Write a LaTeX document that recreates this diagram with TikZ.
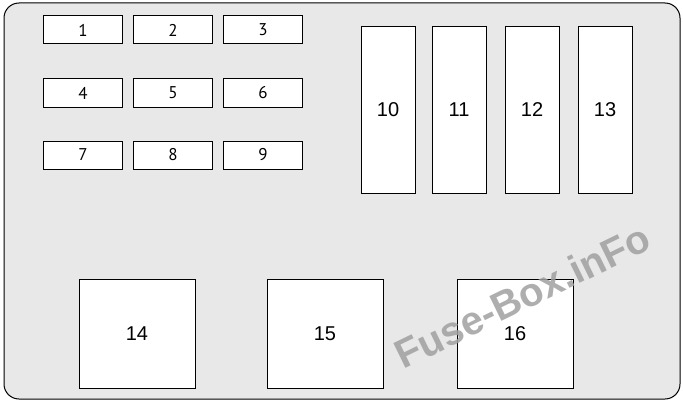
\documentclass[tikz,border=0pt]{standalone}
\usepackage{fontspec}
\usepackage{tikz}
\usetikzlibrary{positioning}

\newfontfamily\smallfusefont{PT Sans}
\newfontfamily\bigfusefont{Liberation Sans}
\definecolor{boxgray}{RGB}{232,232,232}
\definecolor{markgray}{RGB}{160,160,160}

\begin{document}
\begin{tikzpicture}[x=1pt,y=-1pt]
\tikzset{smallfuse/.style={rectangle, draw, fill=white, line width=1pt, minimum width=79pt, minimum height=28pt, inner sep=0pt, font=\smallfusefont\fontsize{17}{17}\selectfont}}
\tikzset{tallfuse/.style={rectangle, draw, fill=white, line width=1pt, minimum width=54pt, minimum height=166pt, inner sep=0pt, font=\bigfusefont\fontsize{20}{20}\selectfont}}
\tikzset{relay/.style={rectangle, draw, fill=white, line width=1pt, minimum width=116pt, minimum height=109pt, inner sep=0pt, font=\bigfusefont\fontsize{20}{20}\selectfont}}
\tikzset{watermark/.style={text=markgray, opacity=0.85, font=\bigfusefont\bfseries\fontsize{40}{40}\selectfont, rotate=26}}
\useasboundingbox (0,0) rectangle (683,404);
% housing
\draw[fill=boxgray, line width=1pt, rounded corners=15pt] (4,3) rectangle (680,399);
% small fuses
\node[smallfuse] (f1) at (83,30) {1};
\node[smallfuse, right=10pt of f1] (f2) {2};
\node[smallfuse, right=10pt of f2] (f3) {3};
\node[smallfuse, below=34pt of f1] (f4) {4};
\node[smallfuse, right=10pt of f4] (f5) {5};
\node[smallfuse, right=10pt of f5] (f6) {6};
\node[smallfuse, below=33pt of f4] (f7) {7};
\node[smallfuse, right=10pt of f7] (f8) {8};
\node[smallfuse, right=10pt of f8] (f9) {9};
% tall fuses
\node[tallfuse] (f10) at (388,110) {10};
\node[tallfuse, right=16pt of f10] (f11) {11};
\node[tallfuse, right=18pt of f11] (f12) {12};
\node[tallfuse, right=18pt of f12] (f13) {13};
% relays
\node[relay] (f14) at (137,333.5) {14};
\node[relay, right=71pt of f14] (f15) {15};
\node[relay, right=73pt of f15] (f16) {16};
% watermark
\node[watermark] (mark) at (522,296) {Fuse-Box.inFo};
\end{tikzpicture}
\end{document}
